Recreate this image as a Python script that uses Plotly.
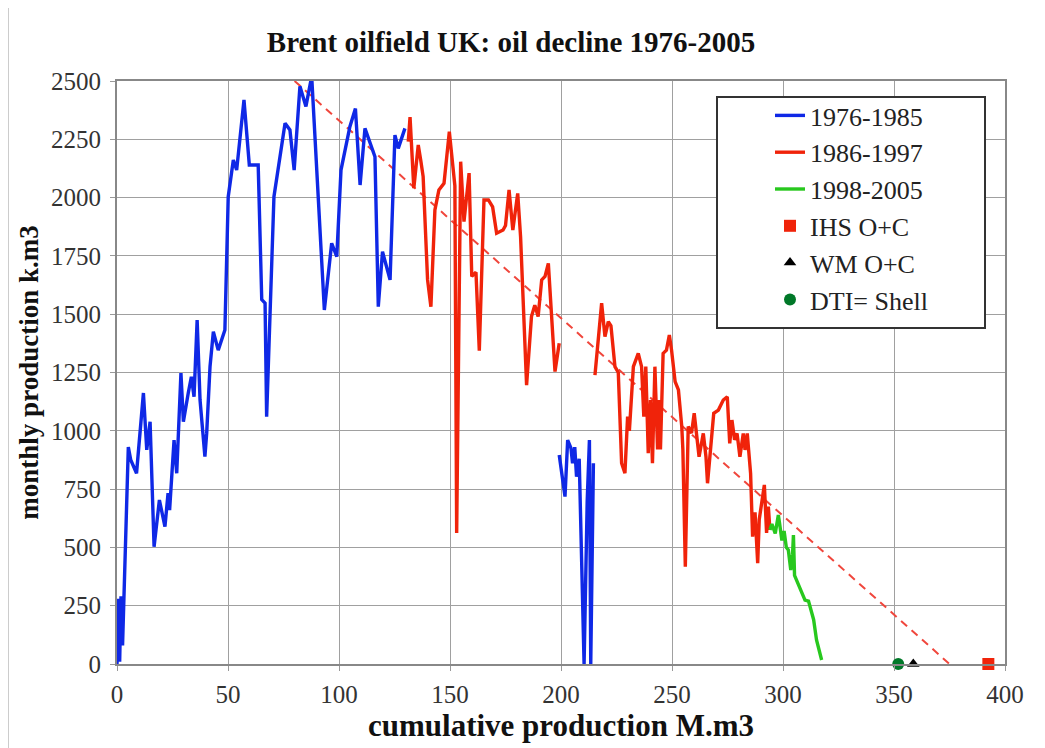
import plotly.graph_objects as go

# ---- data ----
blue_x = [0, 0.6, 1.2, 1.8, 2.5, 3.2, 5.1, 6.2, 8.8, 11.9, 13.4, 14.9, 16.7, 19.1, 21.6, 23, 23.7, 25.7, 26.9,
          28.8, 29.9, 32.1, 33.5, 34.7, 36.1, 37.4, 39.6, 40.4, 41.9, 43.4, 45.6, 48.6, 50.1, 52.4, 53.9, 57.2,
          59.6, 63.6, 65.2, 66.7, 67.4, 70.7, 75.7, 77.9, 79.8, 82.4, 85.1, 87.7, 93.4, 96.7, 99, 100.9, 104.9,
          107.4, 109.5, 111.7, 116.2, 117.7, 119.6, 123, 125.2, 126.7, 129.7,
          None,
          199.2, 201.8, 203, 204.5, 205.2, 206.2, 207, 208.2, 210.4, 211.8, 212.8, 213.4, 214.6]
blue_y = [0, 280, 10, 290, 80, 300, 930, 875, 818, 1162, 918, 1039, 503, 703, 589, 733, 660, 960, 818,
          1248, 1039, 1162, 1232, 1146, 1475, 1132, 889, 990, 1275, 1425, 1346, 1432, 2004, 2161, 2118, 2419,
          2140, 2140, 1563, 1547, 1060, 2004, 2319, 2290, 2118, 2477, 2391, 2520, 1518, 1804, 1747, 2118, 2304,
          2382, 2054, 2297, 2175, 1532, 1768, 1647, 2268, 2211, 2297,
          None,
          896, 718, 960, 925, 861, 930, 803, 880, 0, 700, 960, 0, 861]

red_x = [131.2, 132, 133.7, 135.7, 136.8, 137.9, 139.9, 141.4, 143.2, 145, 147.3, 149.7, 152.2, 153, 154.8,
         156.3, 158.6, 159.8, 161.7, 163.2, 165.3, 167.3, 169.2, 171, 173.9, 175, 176.6, 178.3, 180.5, 181.8,
         184.5, 186.7, 188.2, 189.7, 191.3, 192.8, 194.3, 196.8, 197.3, 199.2,
         None,
         215.3, 218.3, 219.8, 221.3, 222.5, 224.3, 225.8, 227.3, 228.8, 230, 230.8, 232.6, 234.8, 236.3, 237.3,
         238.2, 239.3, 240.3, 241.2, 242.3, 243.5, 244.2, 244.8, 246, 247.5, 248.8, 249.8, 251.4, 252.9, 254.4,
         254.9, 256, 257.3, 258.8, 260, 262.2, 264.1, 265.3, 266, 267.4, 268.8, 270.9, 273.1, 274.9, 276, 277,
         278.2, 279.3, 280.6, 282.1, 282.9, 283.9, 285.4, 286.3, 287.4, 288.6, 289.3, 291.6, 292.6, 293.4, 294.1]
red_y = [2240, 2345, 2040, 2226, 2161, 2090, 1647, 1532, 1947, 2033, 2061, 2283, 2050, 562, 2154,
         1897, 2105, 1662, 1680, 1344, 1990, 1990, 1960, 1847, 1861, 1880, 2033, 1861, 2018, 1830,
         1196, 1490, 1539, 1490, 1647, 1662, 1718, 1375, 1254, 1375,
         None,
         1239, 1547, 1404, 1468, 1450, 1275, 1250, 861, 818, 1061, 1000, 1275, 1332, 1275, 1061,
         1275, 904, 1132, 861, 1275, 920, 1132, 920, 1332, 1346, 1411, 1346, 1211, 1175, 1018,
         918, 417, 1018, 990, 1075, 889, 989, 889, 775, 918, 1075, 1089, 1132, 1146, 946, 1046,
         961, 989, 889, 989, 918, 989, 818, 546, 650, 432, 620, 768, 562, 675, 575]

green_x = [294.1, 295, 296.5, 297.9, 298.5, 299.5, 300.5, 301.5, 302.4, 303.5, 304.3, 304.7, 305.2, 306.1,
           307.3, 308.6, 309.9, 311.5, 312.9, 313.8, 315.1, 316.3, 317.4]
green_y = [575, 600, 560, 639, 600, 530, 570, 500, 489, 403, 470, 553, 380, 360,
           330, 310, 274, 270, 218, 190, 103, 60, 17]

trend_x = [80, 375]
trend_y = [2500, 0]

ihs_x, ihs_y = [392.5], [0]
wm_x, wm_y = [358.7], [0]
dti_x, dti_y = [351.9], [0]

x_ticks = [0, 50, 100, 150, 200, 250, 300, 350, 400]
y_ticks = [0, 250, 500, 750, 1000, 1250, 1500, 1750, 2000, 2250, 2500]

SERIF = "Liberation Serif, Times New Roman, serif"

fig = go.Figure()
fig.add_trace(go.Scatter(x=trend_x, y=trend_y, mode="lines", showlegend=False,
                         line=dict(color="rgb(240,70,60)", width=2, dash="8px,6px"), hoverinfo="skip"))
fig.add_trace(go.Scatter(x=blue_x, y=blue_y, mode="lines", name="1976-1985", legendgroup="a",
                         line=dict(color="rgb(15,40,230)", width=3.4)))
fig.add_trace(go.Scatter(x=red_x, y=red_y, mode="lines", name="1986-1997", legendgroup="b",
                         line=dict(color="rgb(240,35,10)", width=3.4)))
fig.add_trace(go.Scatter(x=green_x, y=green_y, mode="lines", name="1998-2005", legendgroup="c",
                         line=dict(color="rgb(40,200,30)", width=3.4)))
fig.add_trace(go.Scatter(x=ihs_x, y=ihs_y, mode="markers", name="IHS O+C", legendgroup="d",
                         marker=dict(symbol="square", color="rgb(240,35,10)", size=12), cliponaxis=False))
fig.add_trace(go.Scatter(x=wm_x, y=wm_y, mode="markers", name="WM O+C", legendgroup="e",
                         marker=dict(symbol="triangle-up", color="black", size=11), cliponaxis=False))
fig.add_trace(go.Scatter(x=dti_x, y=dti_y, mode="markers", name="DTI= Shell", legendgroup="f",
                         marker=dict(symbol="circle", color="rgb(0,120,40)", size=12), cliponaxis=False))

# page body has an 8px margin, so figure coordinates = screen coordinates - 8
OFF = 8
SL, ST = 117, 81            # plot area top-left on screen
pw, ph = 888, 583           # plot area size
W, H = 1045, 748
L, T = SL - OFF, ST - OFF
R, B = W - L - pw, H - T - ph

def px2paper_x(p):
    return (p - SL) / pw

def px2paper_y(p):
    return (ST + ph - p) / ph

fig.update_layout(
    width=W, height=H,
    margin=dict(l=L, r=R, t=T, b=B, autoexpand=False),
    paper_bgcolor="white", plot_bgcolor="white",
    font=dict(family=SERIF, color="#222"),
    title=dict(text="<b>Brent oilfield UK: oil decline 1976-2005</b>", x=(511 - OFF) / W, xanchor="center",
               y=1 - (42 - OFF) / H, yanchor="middle", font=dict(family=SERIF, size=29, color="#111")),
    xaxis=dict(range=[0, 400], tickvals=x_ticks, showgrid=True, gridcolor="#a0a0a0", gridwidth=1,
               showline=True, linecolor="#888", linewidth=2, mirror=True, zeroline=False,
               ticks="outside", ticklen=5, tickcolor="#999", automargin=False, ticklabelstandoff=2,
               tickfont=dict(family=SERIF, size=25, color="#333"),
               title=dict(text="<b>cumulative production M.m3</b>", standoff=2,
                          font=dict(family=SERIF, size=31, color="#111"))),
    yaxis=dict(range=[0, 2500], tickvals=y_ticks, showgrid=True, gridcolor="#a0a0a0", gridwidth=1,
               showline=True, linecolor="#888", linewidth=2, mirror=True, zeroline=False,
               ticks="outside", ticklen=5, tickcolor="#999", automargin=False, ticklabelstandoff=4,
               tickfont=dict(family=SERIF, size=25, color="#333"),
               title=dict(text="<b>monthly production k.m3</b>", standoff=5,
                          font=dict(family=SERIF, size=27, color="#111"))),
    legend=dict(x=px2paper_x(770), y=px2paper_y(92), xanchor="left", yanchor="top",
                bgcolor="rgba(0,0,0,0)", borderwidth=0, tracegroupgap=0,
                font=dict(family=SERIF, size=26, color="#222"), traceorder="grouped"),
    showlegend=True,
    shapes=[
        dict(type="rect", xref="paper", yref="paper",
             x0=px2paper_x(717), x1=px2paper_x(985), y0=px2paper_y(328), y1=px2paper_y(97),
             fillcolor="white", line=dict(color="#333", width=2), layer="above"),
        dict(type="line", xref="paper", yref="paper",
             x0=px2paper_x(8), x1=px2paper_x(8), y0=px2paper_y(748), y1=px2paper_y(8),
             line=dict(color="#cccccc", width=2)),
    ],
)

fig.write_html("out.html")
